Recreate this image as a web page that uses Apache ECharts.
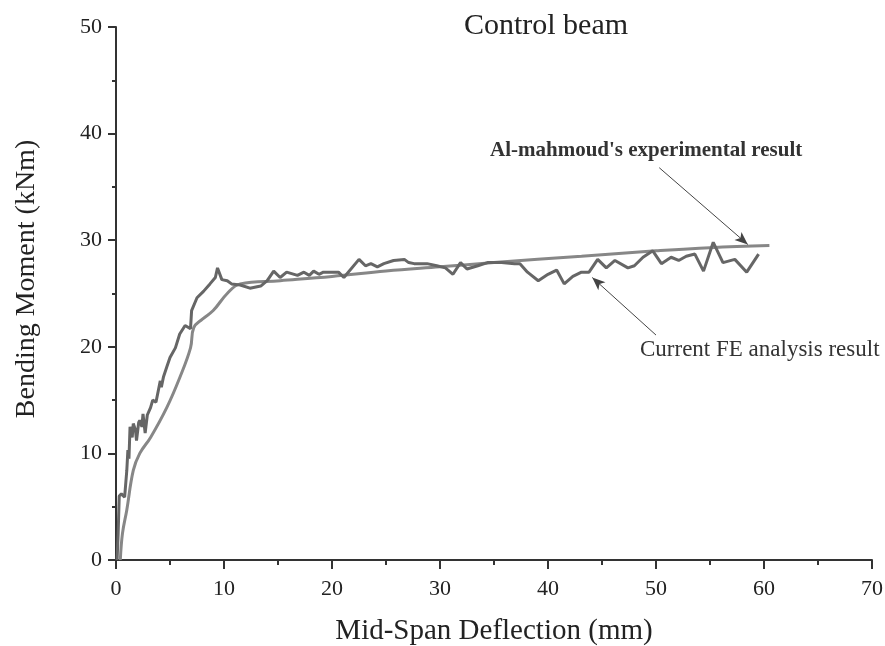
<!DOCTYPE html>
<html><head><meta charset="utf-8">
<script src="https://cdn.jsdelivr.net/npm/echarts@6/dist/echarts.min.js"></script>
<style>html,body{margin:0;padding:0;background:#fff}#c{width:885px;height:646px}</style>
</head><body><div id="c"></div>
<script>
const titleText = "Control beam";
const xName = "Mid-Span Deflection (mm)";
const yName = "Bending Moment (kNm)";
const xTicks = [0,10,20,30,40,50,60,70];
const yTicks = [0,10,20,30,40,50];
// Current FE analysis result (jagged)
const feData = [[0.1,0],[0.2,2.5],[0.3,6.0],[0.5,6.2],[0.65,6.3],[0.8,5.9],[1.0,8.4],[1.1,10.3],[1.2,9.5],[1.3,12.5],[1.5,11.5],[1.6,12.8],[1.8,12.2],[1.9,11.2],[2.1,12.9],[2.2,13.1],[2.4,12.5],[2.5,13.7],[2.7,11.9],[2.9,13.6],[3.2,14.3],[3.4,15.0],[3.7,14.8],[4.1,16.8],[4.2,16.2],[4.4,17.2],[4.7,18.1],[5.0,19.0],[5.5,19.9],[5.9,21.2],[6.4,22.0],[6.9,21.7],[7.0,23.4],[7.5,24.6],[8.1,25.2],[8.7,25.9],[9.2,26.5],[9.4,27.4],[9.8,26.3],[10.3,26.2],[10.7,25.9],[11.5,25.8],[12.4,25.5],[13.4,25.7],[14.0,26.2],[14.6,27.1],[15.2,26.5],[15.8,27.0],[16.8,26.7],[17.4,27.0],[17.9,26.7],[18.3,27.1],[18.8,26.8],[19.2,27.0],[19.9,27.0],[20.6,27.0],[21.1,26.5],[22.5,28.2],[23.1,27.6],[23.6,27.8],[24.2,27.5],[24.8,27.8],[25.7,28.1],[26.7,28.2],[27.1,27.9],[27.6,27.8],[28.8,27.8],[29.7,27.6],[30.5,27.4],[31.2,26.8],[31.9,27.9],[32.5,27.3],[33.5,27.6],[34.4,27.9],[35.7,27.9],[36.9,27.8],[37.4,27.8],[38.1,27.0],[39.1,26.2],[40.0,26.8],[40.8,27.2],[41.5,25.9],[42.3,26.6],[43.1,27.0],[43.8,27.0],[44.6,28.2],[45.4,27.4],[46.2,28.1],[47.4,27.4],[48.0,27.6],[48.8,28.4],[49.7,29.0],[50.5,27.8],[51.4,28.4],[52.1,28.1],[52.8,28.5],[53.6,28.7],[54.4,27.1],[55.3,29.8],[56.2,27.9],[57.3,28.2],[58.4,27.0],[59.5,28.7]];
// Al-mahmoud's experimental result (smooth)
const expData = [[0.4,0],[0.6,2.5],[1.0,4.7],[1.6,8.4],[2.2,10],[3.2,11.5],[4.7,14.3],[5.9,17.1],[6.9,19.9],[7.2,21.8],[8.0,22.6],[9.0,23.4],[10.3,25],[11.5,25.9],[15.2,26.2],[20,26.6],[25,27.1],[30,27.5],[35,27.9],[43.1,28.5],[50,29.0],[55,29.3],[60.5,29.5]];
const expLabel = "Al-mahmoud's experimental result";
const feLabel = "Current FE analysis result";
const expArrow = [[50.3,36.8],[58.5,29.6]];
const feArrow = [[50.0,21.1],[44.1,26.5]];

const serif = "'Liberation Serif','DejaVu Serif',serif";
const chart = echarts.init(document.getElementById('c'));
function arrowLine(pts){
  return {type:'line',data:[],silent:true,
    markLine:{silent:true,symbol:['none','arrow'],symbolSize:[8,13],
      lineStyle:{color:'#444',width:1,type:'solid'},itemStyle:{color:'#111'},label:{show:false},
      data:[[{coord:pts[0]},{coord:pts[1]}]]}};
}
chart.setOption({
  animation:false,
  title:{text:titleText,left:541,top:6,textAlign:'center',
    textStyle:{fontFamily:serif,fontSize:30,fontWeight:'normal',color:'#222'}},
  grid:{left:116,right:13,top:27,bottom:86,outerBoundsMode:'none',containLabel:false},
  xAxis:{type:'value',min:0,max:70,interval:10,
    name:xName,nameLocation:'middle',nameGap:57,
    nameTextStyle:{fontFamily:serif,fontSize:29,color:'#222'},
    axisLine:{lineStyle:{color:'#333',width:2}},
    axisTick:{inside:false,length:9,lineStyle:{color:'#333',width:2}},
    minorTick:{show:true,splitNumber:2,length:5,lineStyle:{color:'#333',width:2}},
    axisLabel:{fontFamily:serif,fontSize:22,color:'#222',margin:18},
    splitLine:{show:false}},
  yAxis:{type:'value',min:0,max:50,interval:10,
    name:'',
    axisLine:{show:true,lineStyle:{color:'#333',width:2}},
    axisTick:{show:true,inside:false,length:8,lineStyle:{color:'#333',width:2}},
    minorTick:{show:true,splitNumber:2,length:4,lineStyle:{color:'#333',width:2}},
    axisLabel:{fontFamily:serif,fontSize:22,color:'#222',margin:14},
    splitLine:{show:false}},
  graphic:[
    {type:'text',x:27,y:279,rotation:Math.PI/2,
      style:{text:yName,font:"28px 'Liberation Serif'",fill:'#222',textAlign:'center',textVerticalAlign:'middle'}},
    {type:'text',left:490,top:140,style:{text:expLabel,font:"bold 21px 'Liberation Serif'",fill:'#333'}},
    {type:'text',left:640,top:338,style:{text:feLabel,font:"23px 'Liberation Serif'",fill:'#333'}}
  ],
  series:[
    {type:'line',data:expData,smooth:0.4,showSymbol:false,z:2,
      lineStyle:{color:'#878787',width:3}},
    {type:'line',data:feData,showSymbol:false,z:3,
      lineStyle:{color:'#666',width:3}},
    arrowLine(expArrow),
    arrowLine(feArrow)
  ]
});
</script></body></html>
